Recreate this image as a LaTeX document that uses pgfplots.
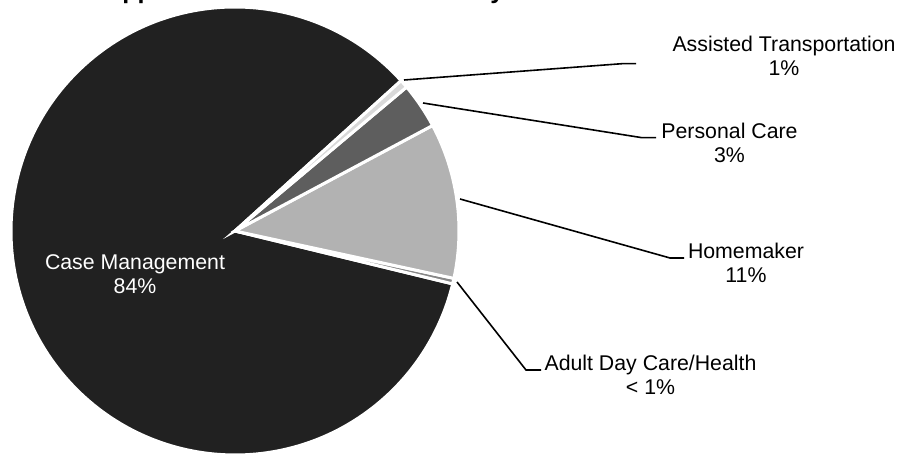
\documentclass[border=0pt]{standalone}
\usepackage{pgfplots}
\pgfplotsset{compat=1.18}
\usepackage{pgfplotstable}
\usepackage{fontspec}
\setmainfont{Liberation Sans}

% shares in percent, counterclockwise from the upper edge of Case Management
% gray = percentage of black in the slice fill
\pgfplotstableread{
share gray
84.5  87
0.4   47
11.2  30
3.3   63
0.6   15
}\piedata

\tikzset{lbl/.style={font=\fontsize{10.65}{12}\selectfont, anchor=base, inner sep=0pt}}

\begin{document}
\begin{tikzpicture}
\begin{axis}[
    x=0.5pt, y=0.5pt,
    xmin=0, xmax=900, ymin=0, ymax=454,
    at={(0,0)}, anchor=origin,
    hide axis, clip=false,
]
\pgfplotstablegetrowsof{\piedata}
\pgfmathtruncatemacro\lastrow{\pgfplotsretval-1}
\def\startangle{42.14}
\pgfplotsforeachungrouped \i in {0,...,\lastrow}{%
  \pgfplotstablegetelem{\i}{share}\of\piedata
  \let\sliceshare\pgfplotsretval
  \pgfplotstablegetelem{\i}{gray}\of\piedata
  \let\slicegray\pgfplotsretval
  \pgfmathsetmacro\endangle{\startangle+3.6*\sliceshare}
  \edef\temp{\noexpand\draw[fill=black!\slicegray, draw=white, line width=1.5pt]
    (axis cs:235,223) -- ++(\startangle:112pt)
    arc[start angle=\startangle, end angle=\endangle, radius=112pt] -- cycle;}
  \temp
  \let\startangle\endangle
}

% leader lines
\draw[line width=0.8pt] (404,374) -- (622,390.3) -- (636,390.3);
\draw[line width=0.8pt] (423,351) -- (642,316.3) -- (656,316.3);
\draw[line width=0.8pt] (460,255) -- (670,196) -- (684,196);
\draw[line width=0.8pt] (457,172) -- (526,84) -- (541,84);

% labels
\node[lbl] at (784,402) {Assisted Transportation};
\node[lbl] at (784,378) {1\%};
\node[lbl] at (729.5,315) {Personal Care};
\node[lbl] at (729.5,291) {3\%};
\node[lbl] at (746,195) {Homemaker};
\node[lbl] at (746,171) {11\%};
\node[lbl] at (650.5,83) {Adult Day Care/Health};
\node[lbl] at (650.5,59) {< 1\%};
\node[lbl, text=white] at (135,184) {Case Management};
\node[lbl, text=white] at (135,160) {84\%};

% title, mostly above the picture
\node[anchor=base west, inner sep=0pt, font=\fontsize{12.5}{15}\selectfont\bfseries]
  at (90,455.5) {Supportive Services Authorized by};
\end{axis}
\pgfresetboundingbox
\useasboundingbox (0,0) rectangle (450pt,227pt);
\end{tikzpicture}
\end{document}
